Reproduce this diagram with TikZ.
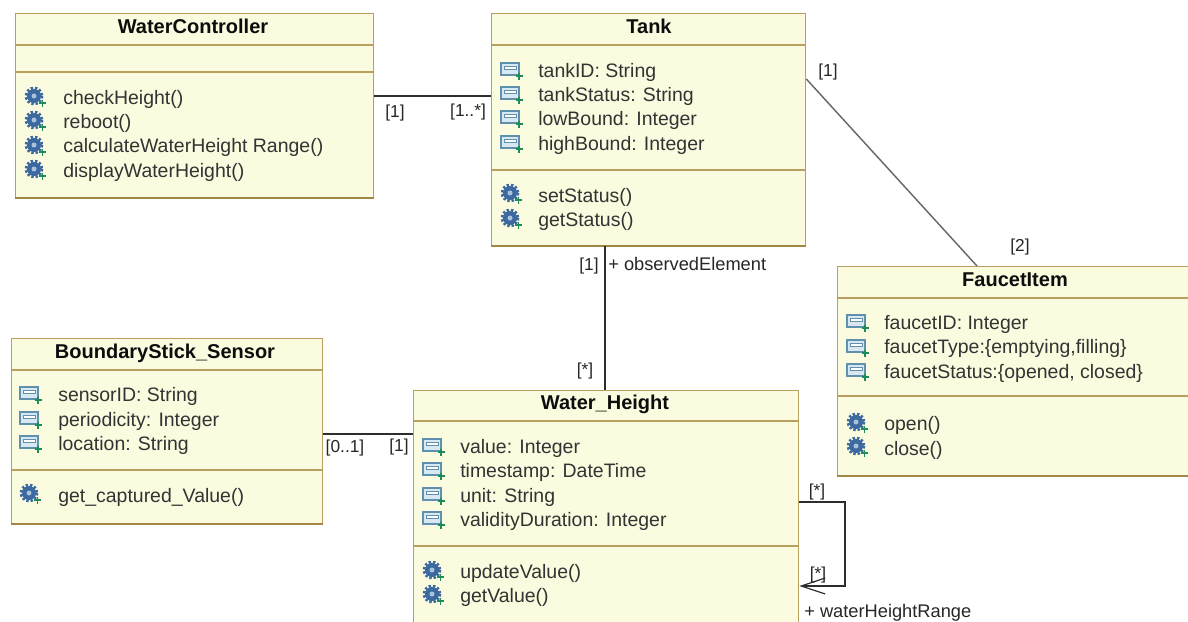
\documentclass[tikz,border=0pt]{standalone}
\usepackage{fontspec}
\setmainfont{Liberation Sans}
\usepackage{tikz}
\usetikzlibrary{arrows.meta,positioning}
\definecolor{umlfill}{RGB}{251,251,224}
\definecolor{umlborder}{RGB}{186,160,96}
\definecolor{umlshade}{RGB}{160,135,70}
\definecolor{umlline}{RGB}{45,45,45}
\definecolor{umlgrey}{RGB}{105,105,105}
\definecolor{iconblue}{RGB}{60,105,160}
\definecolor{iconframe}{RGB}{95,145,175}
\definecolor{iconlight}{RGB}{215,232,242}
\definecolor{icongreen}{RGB}{30,140,90}
\tikzstyle{classbox} = [rectangle, anchor=north west, inner sep=0pt, draw=umlborder, fill=umlfill, line width=1pt]
\tikzstyle{boxsize} = [minimum width=#1*0.75pt]
\tikzstyle{boxheight} = [minimum height=#1*0.75pt]
\tikzstyle{classname} = [font=\fontsize{15}{17}\selectfont\bfseries, inner sep=0pt, text height=10.5pt, text depth=3pt, yshift=-0.75pt, color=black!95]
\tikzstyle{member} = [anchor=base west, inner sep=0pt, font=\fontsize{14.6}{17}\selectfont, yshift=-0.75pt, color=black!80]
\tikzstyle{multi} = [inner sep=0pt, font=\fontsize{13}{15}\selectfont, yshift=-0.75pt, color=black!85]
\tikzstyle{role} = [anchor=west, inner sep=0pt, font=\fontsize{13.7}{15}\selectfont, yshift=-0.75pt, color=black!85]
\tikzstyle{divider} = [draw=umlborder, line width=0.9pt]
\tikzstyle{shade} = [draw=umlshade, line width=1.6pt]
\tikzstyle{assoc} = [draw=umlline, line width=1.1pt]
\tikzset{
  attricon/.pic={
    \draw[iconframe, fill=iconlight, line width=1.1pt] (-10,-7) rectangle (8,5);
    \draw[iconframe, fill=white, line width=0.6pt] (-7,-4) rectangle (5,-1);
    \draw[icongreen, line width=0.9pt] (4.5,6) -- (11.5,6) (8,2.5) -- (8,9.5);
  },
  opicon/.pic={
    \fill[iconblue] (-1,-1) circle[radius=7];
    \draw[iconblue, line width=2pt, dash pattern=on 1.8pt off 1.4pt] (-1,-1) circle[radius=8];
    \fill[iconlight!70!iconblue] (-1,-1) circle[radius=2.5];
    \draw[icongreen, line width=0.9pt] (4,6) -- (11,6) (7.5,2.5) -- (7.5,9.5);
  }
}

\begin{document}
\begin{tikzpicture}[x=0.75pt, y=-0.75pt]
\useasboundingbox (0,0) rectangle (1188,621);
\clip (0,0) rectangle (1188,621);

% Class boxes
\node (waterctrl) [classbox, boxsize=358, boxheight=184] at (15,13) {};
\node (tank) [classbox, boxsize=314, boxheight=232] at (491,13) {};
\node (faucet) [classbox, boxsize=380, boxheight=209] at (837,266) {};
\node (sensor) [classbox, boxsize=311, boxheight=185] at (11,338) {};
\node (height) [classbox, boxsize=385, boxheight=260] at (413,390) {};

% Compartment dividers
\draw[divider] (waterctrl.west |- 0,45) -- (waterctrl.east |- 0,45);
\draw[divider] (waterctrl.west |- 0,72) -- (waterctrl.east |- 0,72);
\draw[divider] (tank.west |- 0,45) -- (tank.east |- 0,45);
\draw[divider] (tank.west |- 0,170) -- (tank.east |- 0,170);
\draw[divider] (faucet.west |- 0,298) -- (faucet.east |- 0,298);
\draw[divider] (faucet.west |- 0,396) -- (faucet.east |- 0,396);
\draw[divider] (sensor.west |- 0,370) -- (sensor.east |- 0,370);
\draw[divider] (sensor.west |- 0,470) -- (sensor.east |- 0,470);
\draw[divider] (height.west |- 0,421) -- (height.east |- 0,421);
\draw[divider] (height.west |- 0,546) -- (height.east |- 0,546);

% Heavier bottom edges
\draw[shade] (waterctrl.south west) -- (waterctrl.south east);
\draw[shade] (tank.south west) -- (tank.south east);
\draw[shade] (faucet.south west) -- (faucet.south east);
\draw[shade] (sensor.south west) -- (sensor.south east);

% Class names
\node (waterctrlname) [classname] at (193,27) {WaterController};
\node (tankname) [classname] at (649,27) {Tank};
\node (faucetname) [classname] at (1015,280) {FaucetItem};
\node (sensorname) [classname] at (165,352) {BoundaryStick\_Sensor};
\node (heightname) [classname] at (605,403) {Water\_Height};

% WaterController operations
\pic at (35,97) {opicon};
\pic at (35,121) {opicon};
\pic at (35,146) {opicon};
\pic at (35,170) {opicon};
\node (checkheight) [member] at (63,103) {checkHeight()};
\node (reboot) [member] at (63,127) {reboot()};
\node (calcheight) [member] at (63,151) {calculateWaterHeight Range()};
\node (displayheight) [member] at (63,176) {displayWaterHeight()};

% Tank members
\pic at (511,70) {attricon};
\pic at (511,94) {attricon};
\pic at (511,118) {attricon};
\pic at (511,143) {attricon};
\pic at (511,194) {opicon};
\pic at (511,219) {opicon};
\node (tankid) [member] at (538,76) {tankID: String};
\node (tankstatus) [member] at (538,100) {tankStatus: String};
\node (lowbound) [member] at (538,124) {lowBound: Integer};
\node (highbound) [member] at (538,149) {highBound: Integer};
\node (setstatus) [member] at (538,201) {setStatus()};
\node (getstatus) [member] at (538,225) {getStatus()};

% FaucetItem members
\pic at (857,322) {attricon};
\pic at (857,347) {attricon};
\pic at (857,371) {attricon};
\pic at (857,423) {opicon};
\pic at (857,447) {opicon};
\node (faucetid) [member] at (884,328) {faucetID: Integer};
\node (faucettype) [member] at (884,352) {faucetType:\{emptying,filling\}};
\node (faucetstatus) [member] at (884,377) {faucetStatus:\{opened, closed\}};
\node (open) [member] at (884,429) {open()};
\node (close) [member] at (884,454) {close()};

% BoundaryStick_Sensor members
\pic at (30,394) {attricon};
\pic at (30,419) {attricon};
\pic at (30,443) {attricon};
\pic at (30,494) {opicon};
\node (sensorid) [member] at (58,400) {sensorID: String};
\node (periodicity) [member] at (58,425) {periodicity: Integer};
\node (location) [member] at (58,449) {location: String};
\node (captured) [member] at (58,501) {get\_captured\_Value()};

% Water_Height members
\pic at (433,446) {attricon};
\pic at (433,470) {attricon};
\pic at (433,495) {attricon};
\pic at (433,519) {attricon};
\pic at (433,571) {opicon};
\pic at (433,595) {opicon};
\node (value) [member] at (460,452) {value: Integer};
\node (timestamp) [member] at (460,476) {timestamp: DateTime};
\node (unit) [member] at (460,501) {unit: String};
\node (validity) [member] at (460,525) {validityDuration: Integer};
\node (updatevalue) [member] at (460,577) {updateValue()};
\node (getvalue) [member] at (460,601) {getValue()};

% Associations
\coordinate (loopa) at (845,502);
\coordinate (loopb) at (845,586);
\draw[assoc] (waterctrl.east |- 0,96) -- (tank.west |- 0,96);
\draw[assoc, draw=umlgrey] (tank.east |- 0,79) -- (faucet.north -| 977,0);
\draw[assoc] (tank.south -| 605,0) -- (height.north -| 605,0);
\draw[assoc] (sensor.east |- 0,434) -- (height.west |- 0,434);
\draw[assoc, -{Straight Barb[length=18pt,width=12pt,line width=0.9pt]}] (height.east |- loopa) -- (loopa) -- (loopb) -- (height.east |- loopb);

% Multiplicities and roles
\node (mwaterctrl) [multi] at (395,112) {[1]};
\node (mtanka) [multi] at (468,111) {[1..*]};
\node (mtankb) [multi] at (828,71) {[1]};
\node (mfaucet) [multi] at (1020,246) {[2]};
\node (mtankc) [multi] at (589,265) {[1]};
\node (mheighta) [multi] at (585,370) {[*]};
\node (msensor) [multi] at (345,447) {[0..1]};
\node (mheightb) [multi] at (399,446) {[1]};
\node (mloopa) [multi] at (817,491) {[*]};
\node (mloopb) [multi] at (818,574) {[*]};
\node (observed) [role] at (608,263) {+ observedElement};
\node (range) [role] at (804,612) {+ waterHeightRange};
\end{tikzpicture}
\end{document}
